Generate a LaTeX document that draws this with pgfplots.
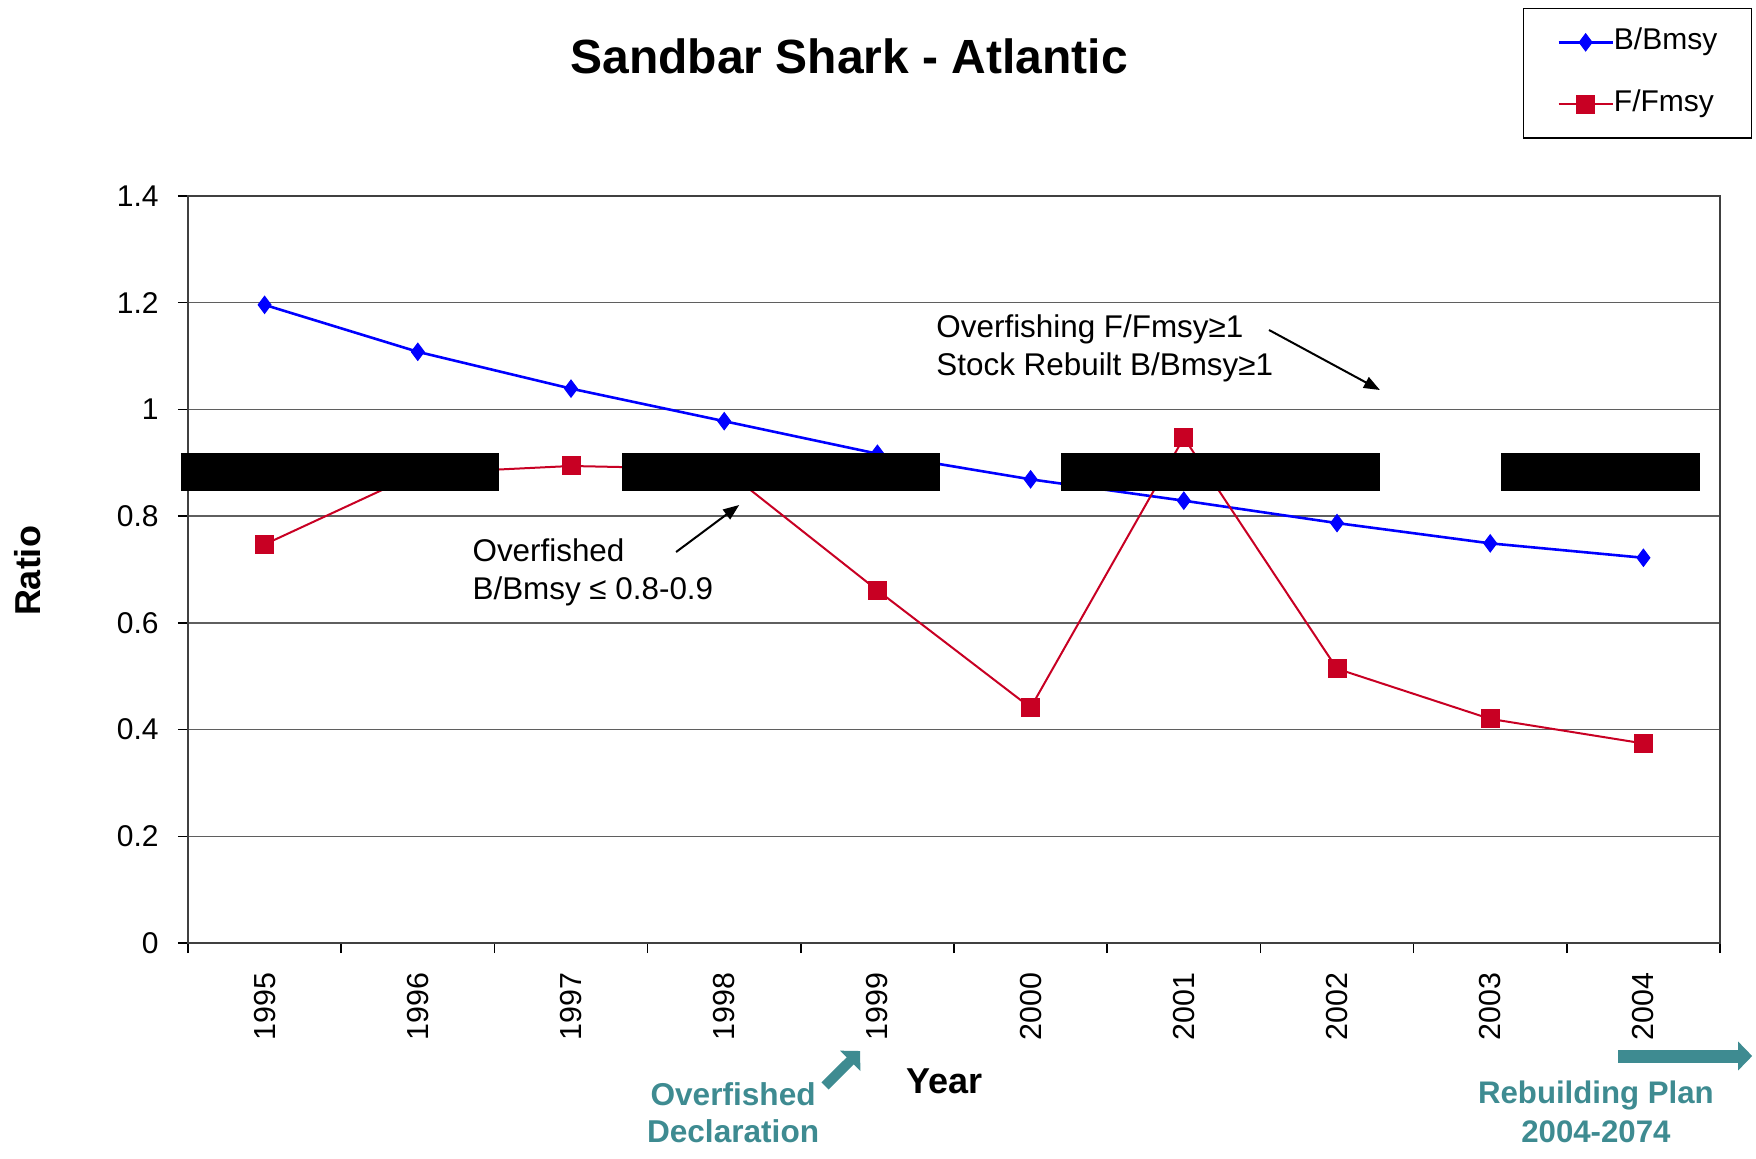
\documentclass[border=0pt]{standalone}
\usepackage{fontspec}
\setmainfont{Liberation Sans}
\usepackage{pgfplots}
\usepackage{pgfplotstable}
\pgfplotsset{compat=1.18}
\usetikzlibrary{arrows.meta}
\definecolor{bcol}{RGB}{0,0,255}
\definecolor{fcol}{RGB}{200,0,35}
\definecolor{tealc}{RGB}{62,139,145}
\definecolor{gridc}{RGB}{95,95,95}

\pgfplotstableread{
x B F
0 1.196 0.747
1 1.108 0.880
2 1.039 0.894
3 0.978 0.888
4 0.917 0.661
5 0.869 0.441
6 0.829 0.947
7 0.787 0.514
8 0.749 0.420
9 0.722 0.374
}\data

\begin{document}
\begin{tikzpicture}
\useasboundingbox (-94pt,-107.5pt) rectangle (784pt,471.5pt);
\begin{axis}[
  at={(0pt,0pt)}, anchor=south west,
  scale only axis, width=766pt, height=373.5pt,
  xmin=-0.5, xmax=9.5, ymin=0, ymax=1.4,
  clip=false, clip mode=individual,
  /pgf/number format/assume math mode=true,
  axis line style={black!75, line width=0.75pt},
  ymajorgrids, grid style={gridc, line width=0.75pt},
  tick align=outside,
  xtick pos=lower, ytick pos=left,
  major tick length=5pt,
  tick style={black, line width=0.75pt},
  xtick={-0.5,0.5,1.5,2.5,3.5,4.5,5.5,6.5,7.5,8.5,9.5},
  xticklabels={},
  extra x ticks={0,1,2,3,4,5,6,7,8,9},
  extra x tick labels={1995,1996,1997,1998,1999,2000,2001,2002,2003,2004},
  extra x tick style={major tick length=0pt, grid=none},
  xticklabel style={font=\fontsize{15.2}{18}\selectfont, rotate=90, anchor=east, inner sep=0pt},
  xticklabel shift=14.5pt,
  ytick={0,0.2,0.4,0.6,0.8,1,1.2,1.4},
  yticklabels={0,0.2,0.4,0.6,0.8,1,1.2,1.4},
  yticklabel style={font=\fontsize{15}{18}\selectfont, inner sep=0pt, anchor=east},
  yticklabel shift=9.5pt,
  xlabel={Year},
  xlabel style={font=\fontsize{18}{21}\selectfont\bfseries, at={(axis description cs:0.4941,-0.2021)}, anchor=base},
  ylabel={Ratio},
  ylabel style={font=\fontsize{18}{21}\selectfont\bfseries, at={(axis description cs:-0.1044,0.498)}, anchor=center},
  legend style={at={(axis description cs:1.0209,1.2517)}, anchor=north east,
    draw=black, line width=0.75pt, fill=white,
    font=\fontsize{15}{17}\selectfont,
    inner xsep=17pt, inner ysep=10pt, row sep=17.4pt,
    nodes={inner sep=0pt, text height=10.5pt, text depth=3.1pt},
    /tikz/every even column/.append style={column sep=2.5pt}},
  legend cell align=left,
  legend image code/.code={\draw[mark repeat=2,mark phase=2] plot coordinates {(0pt,0pt) (13.5pt,0pt) (27pt,0pt)};},
]
\addplot[bcol, line width=1.3pt, mark=diamond*, mark size=4.3pt, mark options={fill=bcol, line width=0.5pt}] table[x=x, y=B] {\data};
\addplot[fcol, line width=1pt, mark=square*, mark size=4.5pt, mark options={fill=fcol, line width=0.5pt}] table[x=x, y=F] {\data};
\legend{B/Bmsy, F/Fmsy}

% black bands
\addplot[fill=black, draw=none, forget plot] coordinates {(-0.543,0.848) (1.533,0.848) (1.533,0.919) (-0.543,0.919)};
\addplot[fill=black, draw=none, forget plot] coordinates {(2.330,0.848) (4.407,0.848) (4.407,0.919) (2.330,0.919)};
\addplot[fill=black, draw=none, forget plot] coordinates {(5.196,0.848) (7.279,0.848) (7.279,0.919) (5.196,0.919)};
\addplot[fill=black, draw=none, forget plot] coordinates {(8.069,0.848) (9.371,0.848) (9.371,0.919) (8.069,0.919)};

% title
\node[font=\fontsize{24}{28}\selectfont\bfseries, anchor=base] at (axis cs:3.815,1.6287) {Sandbar Shark - Atlantic};

% annotations
\node[font=\fontsize{15.7}{18}\selectfont, anchor=base west, inner sep=0pt] at (axis cs:4.383,1.1357) {Overfishing F/Fmsy≥1};
\node[font=\fontsize{15.7}{18}\selectfont, anchor=base west, inner sep=0pt] at (axis cs:4.383,1.0645) {Stock Rebuilt B/Bmsy≥1};
\draw[-{Triangle[length=8pt,width=6pt]}, line width=1pt] (axis cs:6.556,1.1489) -- (axis cs:7.280,1.0364);

\node[font=\fontsize{15.7}{18}\selectfont, anchor=base west, inner sep=0pt] at (axis cs:1.355,0.7159) {Overfished};
\node[font=\fontsize{15.7}{18}\selectfont, anchor=base west, inner sep=0pt] at (axis cs:1.355,0.6447) {B/Bmsy ≤ 0.8-0.9};
\draw[-{Triangle[length=8pt,width=6pt]}, line width=1pt] (axis cs:2.686,0.7328) -- (axis cs:3.098,0.8209);

% teal notes
\node[font=\fontsize{15.8}{18}\selectfont\bfseries, text=tealc, anchor=base, inner sep=0pt] at (axis cs:3.058,-0.3036) {Overfished};
\node[font=\fontsize{15.8}{18}\selectfont\bfseries, text=tealc, anchor=base, inner sep=0pt] at (axis cs:3.058,-0.3748) {Declaration};
\draw[-{Triangle[length=7pt,width=14pt]}, line width=5pt, tealc] (axis cs:3.658,-0.268) -- (axis cs:3.887,-0.2024);

\node[font=\fontsize{15.6}{18}\selectfont\bfseries, text=tealc, anchor=base, inner sep=0pt] at (axis cs:8.690,-0.2999) {Rebuilding Plan};
\node[font=\fontsize{15.6}{18}\selectfont\bfseries, text=tealc, anchor=base, inner sep=0pt] at (axis cs:8.690,-0.3730) {2004-2074};
\draw[-{Triangle[length=7pt,width=14pt]}, line width=6.5pt, tealc] (axis cs:8.835,-0.2118) -- (axis cs:9.710,-0.2118);
\end{axis}
\end{tikzpicture}
\end{document}
